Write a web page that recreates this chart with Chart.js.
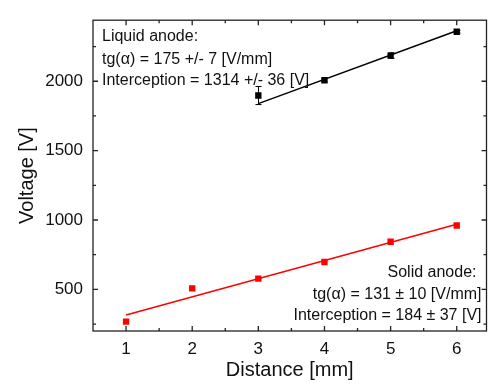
<!DOCTYPE html>
<html>
<head>
<meta charset="utf-8">
<script src="https://cdn.jsdelivr.net/npm/chart.js@4.4.0/dist/chart.umd.min.js"></script>
<style>
    html, body { margin: 0; padding: 0; background: #fff; }
</style>
</head>
<body>
<canvas id="chart" width="491" height="384"></canvas>
<script>
// measured points
const solidDistance = [1, 2, 3, 4, 5, 6];
const solidVoltage = [268, 507, 577, 697, 843, 960];
const liquidDistance = [3, 4, 5, 6];
const liquidVoltage = [1897, 2007, 2185, 2357];
const liquidError = [65, 12, 20, 10];

// linear fits (end points)
const solidFitX = [1, 6];
const solidFitY = [315, 970];
const liquidFitX = [3, 6];
const liquidFitY = [1839, 2364];

const xTicks = [1, 2, 3, 4, 5, 6];
const yTicks = [500, 1000, 1500, 2000];

const liquidLabel = ['Liquid anode:', 'tg(\u03B1) = 175 +/- 7 [V/mm]', 'Interception = 1314 +/- 36 [V]'];
const solidLabel = ['Solid anode:', 'tg(\u03B1) = 131 \u00B1 10 [V/mm]', 'Interception = 184 \u00B1 37 [V]'];

const FONT = "'Liberation Sans', Arial, sans-serif";

function points(xs, ys) {
    return xs.map((x, i) => ({ x: x, y: ys[i] }));
}

// error bars, drawn under the markers
const errorBars = {
    id: 'errorBars',
    beforeDatasetsDraw(chart) {
        const { ctx, scales: { x, y } } = chart;
        ctx.save();
        ctx.strokeStyle = '#000';
        ctx.lineWidth = 1;
        ctx.beginPath();
        liquidDistance.forEach((d, i) => {
            const px = Math.round(x.getPixelForValue(d)) + 0.5;
            const top = y.getPixelForValue(liquidVoltage[i] + liquidError[i]);
            const bottom = y.getPixelForValue(liquidVoltage[i] - liquidError[i]);
            ctx.moveTo(px, top);
            ctx.lineTo(px, bottom);
            ctx.moveTo(px - 3, top);
            ctx.lineTo(px + 3, top);
            ctx.moveTo(px - 3, bottom);
            ctx.lineTo(px + 3, bottom);
        });
        ctx.stroke();
        ctx.restore();
    }
};

// box frame with inward ticks on all four sides
const frame = {
    id: 'frame',
    afterDatasetsDraw(chart) {
        const { ctx, chartArea: a, scales: { x, y } } = chart;
        ctx.save();
        ctx.strokeStyle = '#222';
        ctx.lineWidth = 1.3;
        ctx.strokeRect(a.left, a.top, a.right - a.left, a.bottom - a.top);

        ctx.beginPath();
        const xMinor = xTicks.map(v => v - 0.5).concat([xTicks[xTicks.length - 1] + 0.5]);
        xTicks.forEach(v => {
            const px = x.getPixelForValue(v);
            ctx.moveTo(px, a.bottom); ctx.lineTo(px, a.bottom - 5);
            ctx.moveTo(px, a.top); ctx.lineTo(px, a.top + 5);
        });
        xMinor.forEach(v => {
            const px = x.getPixelForValue(v);
            if (px <= a.left + 1 || px >= a.right - 1) return;
            ctx.moveTo(px, a.bottom); ctx.lineTo(px, a.bottom - 3);
            ctx.moveTo(px, a.top); ctx.lineTo(px, a.top + 3);
        });
        const yMinor = yTicks.map(v => v - 250).concat([yTicks[yTicks.length - 1] + 250]);
        yTicks.forEach(v => {
            const py = y.getPixelForValue(v);
            ctx.moveTo(a.left, py); ctx.lineTo(a.left + 5, py);
            ctx.moveTo(a.right, py); ctx.lineTo(a.right - 5, py);
        });
        yMinor.forEach(v => {
            const py = y.getPixelForValue(v);
            if (py >= a.bottom - 1 || py <= a.top + 1) return;
            ctx.moveTo(a.left, py); ctx.lineTo(a.left + 3, py);
            ctx.moveTo(a.right, py); ctx.lineTo(a.right - 3, py);
        });
        ctx.stroke();
        ctx.restore();
    }
};

// fit result annotations
const annotations = {
    id: 'annotations',
    afterDraw(chart) {
        const { ctx, chartArea: a } = chart;
        ctx.save();
        ctx.fillStyle = '#111';
        ctx.font = '16px ' + FONT;
        ctx.textBaseline = 'middle';
        ctx.textAlign = 'left';
        [16, 39, 60].forEach((dy, i) => ctx.fillText(liquidLabel[i], a.left + 9, a.top + dy));
        ctx.textAlign = 'right';
        [-58, -36, -15].forEach((dy, i) => ctx.fillText(solidLabel[i], a.right - (i === 0 ? 10 : 5), a.bottom + dy));
        ctx.restore();
    }
};

new Chart(document.getElementById('chart'), {
    type: 'scatter',
    data: {
        datasets: [
            {
                label: 'Solid fit',
                type: 'line',
                data: points(solidFitX, solidFitY),
                borderColor: '#ff0000',
                borderWidth: 1.5,
                pointRadius: 0,
                fill: false
            },
            {
                label: 'Liquid fit',
                type: 'line',
                data: points(liquidFitX, liquidFitY),
                borderColor: '#000',
                borderWidth: 1.5,
                pointRadius: 0,
                fill: false
            },
            {
                label: 'Solid anode',
                data: points(solidDistance, solidVoltage),
                pointStyle: 'rect',
                pointRadius: 4.5,
                backgroundColor: '#ff0000',
                borderColor: '#ff0000',
                borderWidth: 0
            },
            {
                label: 'Liquid anode',
                data: points(liquidDistance, liquidVoltage),
                pointStyle: 'rect',
                pointRadius: 4.5,
                backgroundColor: '#000',
                borderColor: '#000',
                borderWidth: 0
            }
        ]
    },
    options: {
        responsive: false,
        animation: false,
        devicePixelRatio: 1,
        layout: { padding: { top: 9, right: 3, left: 0, bottom: 0 } },
        plugins: {
            legend: { display: false },
            tooltip: { enabled: false }
        },
        scales: {
            x: {
                type: 'linear',
                min: 0.5,
                max: 6.45,
                afterFit: scale => { scale.height = 53; },
                afterBuildTicks: scale => { scale.ticks = xTicks.map(v => ({ value: v })); },
                border: { display: false },
                grid: { display: false, drawTicks: false },
                ticks: { color: '#111', padding: 8, font: { family: FONT, size: 17 }, callback: v => String(v) },
                title: {
                    display: true,
                    text: 'Distance [mm]',
                    color: '#111',
                    padding: { top: 0, bottom: 2 },
                    font: { family: FONT, size: 20 }
                }
            },
            y: {
                type: 'linear',
                min: 200,
                max: 2440,
                afterFit: scale => { scale.width = 93; },
                afterBuildTicks: scale => { scale.ticks = yTicks.map(v => ({ value: v })); },
                border: { display: false },
                grid: { display: false, drawTicks: false },
                ticks: { color: '#111', padding: 10, font: { family: FONT, size: 17 }, callback: v => String(v) },
                title: {
                    display: true,
                    text: 'Voltage [V]',
                    color: '#111',
                    padding: { top: 15, bottom: 0 },
                    font: { family: FONT, size: 20 }
                }
            }
        }
    },
    plugins: [errorBars, frame, annotations]
});
</script>
</body>
</html>
